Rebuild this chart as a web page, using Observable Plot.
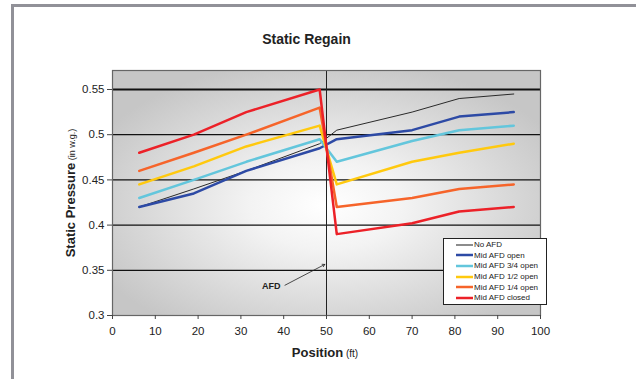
<!DOCTYPE html>
<html><head><meta charset="utf-8">
<script src="https://cdn.jsdelivr.net/npm/d3@7"></script>
<script src="https://cdn.jsdelivr.net/npm/@observablehq/plot@0.6"></script>
<style>
body{margin:0;background:#fff;font-family:"Liberation Sans",Arial,sans-serif;}
#page{position:relative;width:636px;height:379px;overflow:hidden;background:#fff;}
#border{position:absolute;left:11px;top:4px;width:700px;height:420px;border-top:3px solid #919198;border-left:3px solid #919198;}
#title{position:absolute;left:0;top:32px;width:613px;text-align:center;font-size:14px;line-height:14px;font-weight:bold;color:#222;}
#chart{position:absolute;left:0;top:60px;}
#legend{position:absolute;left:443px;top:238px;width:102px;height:64px;background:#fff;border:1px solid #222;padding-top:0.5px;}
.row{height:10.6px;display:flex;align-items:center;font-size:8px;color:#222;}
.sw{width:17px;margin-left:12px;margin-right:1px;}
</style></head>
<body>
<div id="page">
  <div id="border"></div>
  <div id="title">Static Regain</div>
  <div id="chart"></div>
  <div id="legend"></div>
</div>
<script>
const positions = [6.25, 19, 31.25, 48.4, 52.4, 70, 81, 93.75];
const seriesNames = ["No AFD", "Mid AFD open", "Mid AFD 3/4 open", "Mid AFD 1/2 open", "Mid AFD 1/4 open", "Mid AFD closed"];
const noAFD      = [0.42, 0.44, 0.46, 0.49, 0.505, 0.525, 0.54, 0.545];
const afdOpen    = [0.42, 0.435, 0.46, 0.485, 0.495, 0.505, 0.52, 0.525];
const afd34      = [0.43, 0.45, 0.47, 0.495, 0.47, 0.493, 0.505, 0.51];
const afd12      = [0.445, 0.465, 0.487, 0.51, 0.445, 0.47, 0.48, 0.49];
const afd14      = [0.46, 0.48, 0.5, 0.53, 0.42, 0.43, 0.44, 0.445];
const afdClosed  = [0.48, 0.5, 0.525, 0.55, 0.39, 0.402, 0.415, 0.42];
const seriesColors = ["#2a2a2a", "#2d4aa5", "#63c6dc", "#ffc90e", "#f6642a", "#ec2128"];
const seriesWidths = [1, 2.5, 2.5, 2.5, 2.5, 2.5];
const xTicks = [0, 10, 20, 30, 40, 50, 60, 70, 80, 90, 100];
const yTicks = [0.3, 0.35, 0.4, 0.45, 0.5, 0.55];
const gridValues = [0.35, 0.4, 0.45, 0.5];
const topGrid = [0.55];
const afdPosition = [50];
const afdLabel = [{x: 37.1, y: 0.332, text: "AFD"}];
const afdArrow = [{x1: 40.3, y1: 0.3335, x2: 49.6, y2: 0.3565}];

const valueLists = [noAFD, afdOpen, afd34, afd12, afd14, afdClosed];
const data = seriesNames.flatMap((s, i) => positions.map((p, j) => ({series: s, x: p, y: valueLists[i][j]})));

const chart = Plot.plot({
  width: 636, height: 319,
  marginLeft: 112, marginRight: 96, marginTop: 10, marginBottom: 64,
  style: {fontFamily: '"Liberation Sans", Arial, sans-serif', fontSize: "11.5px", color: "#222", background: "transparent"},
  x: {domain: [0, 100], ticks: xTicks, tickSize: 4, tickPadding: 7, label: null},
  y: {domain: [0.3, 0.571], ticks: yTicks, tickSize: 5, tickPadding: 3, label: null, tickFormat: d => String(+d.toFixed(2))},
  marks: [
    Plot.frame({fill: "url(#bgGrad)", stroke: "none"}),
    Plot.ruleY(gridValues, {stroke: "#111", strokeWidth: 1.3}),
    Plot.ruleY(topGrid, {stroke: "#111", strokeWidth: 2.2}),
    Plot.ruleX(afdPosition, {stroke: "#222", strokeWidth: 1}),
    ...seriesNames.map((s, i) => Plot.line(data.filter(d => d.series === s), {x: "x", y: "y", stroke: seriesColors[i], strokeWidth: seriesWidths[i]})),
    Plot.text(afdLabel, {x: "x", y: "y", text: "text", fontWeight: "bold", fontSize: 9, fill: "#222"}),
    Plot.arrow(afdArrow, {x1: "x1", y1: "y1", x2: "x2", y2: "y2", stroke: "#222", strokeWidth: 0.8, headLength: 5, bend: 0}),
    Plot.frame({stroke: "#666", strokeWidth: 1.2}),
    Plot.axisX({ticks: xTicks, tickSize: 4, tickPadding: 7, label: null, stroke: "#444"}),
    Plot.axisY({ticks: yTicks, tickSize: 5, tickPadding: 3, label: null, tickFormat: d => String(+d.toFixed(2)), stroke: "#444"})
  ]
});

const svg = d3.select(chart);
const defs = svg.insert("defs", ":first-child");
const g = defs.append("radialGradient").attr("id", "bgGrad").attr("cx", 0.5).attr("cy", 0.55).attr("r", 0.6);
g.append("stop").attr("offset", 0).attr("stop-color", "#ffffff");
g.append("stop").attr("offset", 0.3).attr("stop-color", "#f3f3f3");
g.append("stop").attr("offset", 1).attr("stop-color", "#c6c6c6");

// axis labels with mixed weights
const xl = svg.append("text").attr("x", 325).attr("y", 297).attr("text-anchor", "middle").attr("fill", "#222");
xl.append("tspan").attr("font-weight", "bold").attr("font-size", 13).text("Position");
xl.append("tspan").attr("font-size", 10).text(" (ft)");
const yl = svg.append("text").attr("transform", "translate(75,133) rotate(-90)").attr("text-anchor", "middle").attr("fill", "#222");
yl.append("tspan").attr("font-weight", "bold").attr("font-size", 13).text("Static Pressure");
yl.append("tspan").attr("font-size", 9).text(" (in w.g.)");

document.getElementById("chart").appendChild(chart);

const legend = d3.select("#legend");
seriesNames.forEach((s, i) => {
  const row = legend.append("div").attr("class", "row");
  row.append("svg").attr("class", "sw").attr("width", 17).attr("height", 4)
    .append("line").attr("x1", 0).attr("x2", 17).attr("y1", 2).attr("y2", 2)
    .attr("stroke", i === 0 ? "#666" : seriesColors[i]).attr("stroke-width", i === 0 ? 1.5 : 2.5);
  row.append("span").text(s);
});
</script>
</body></html>
